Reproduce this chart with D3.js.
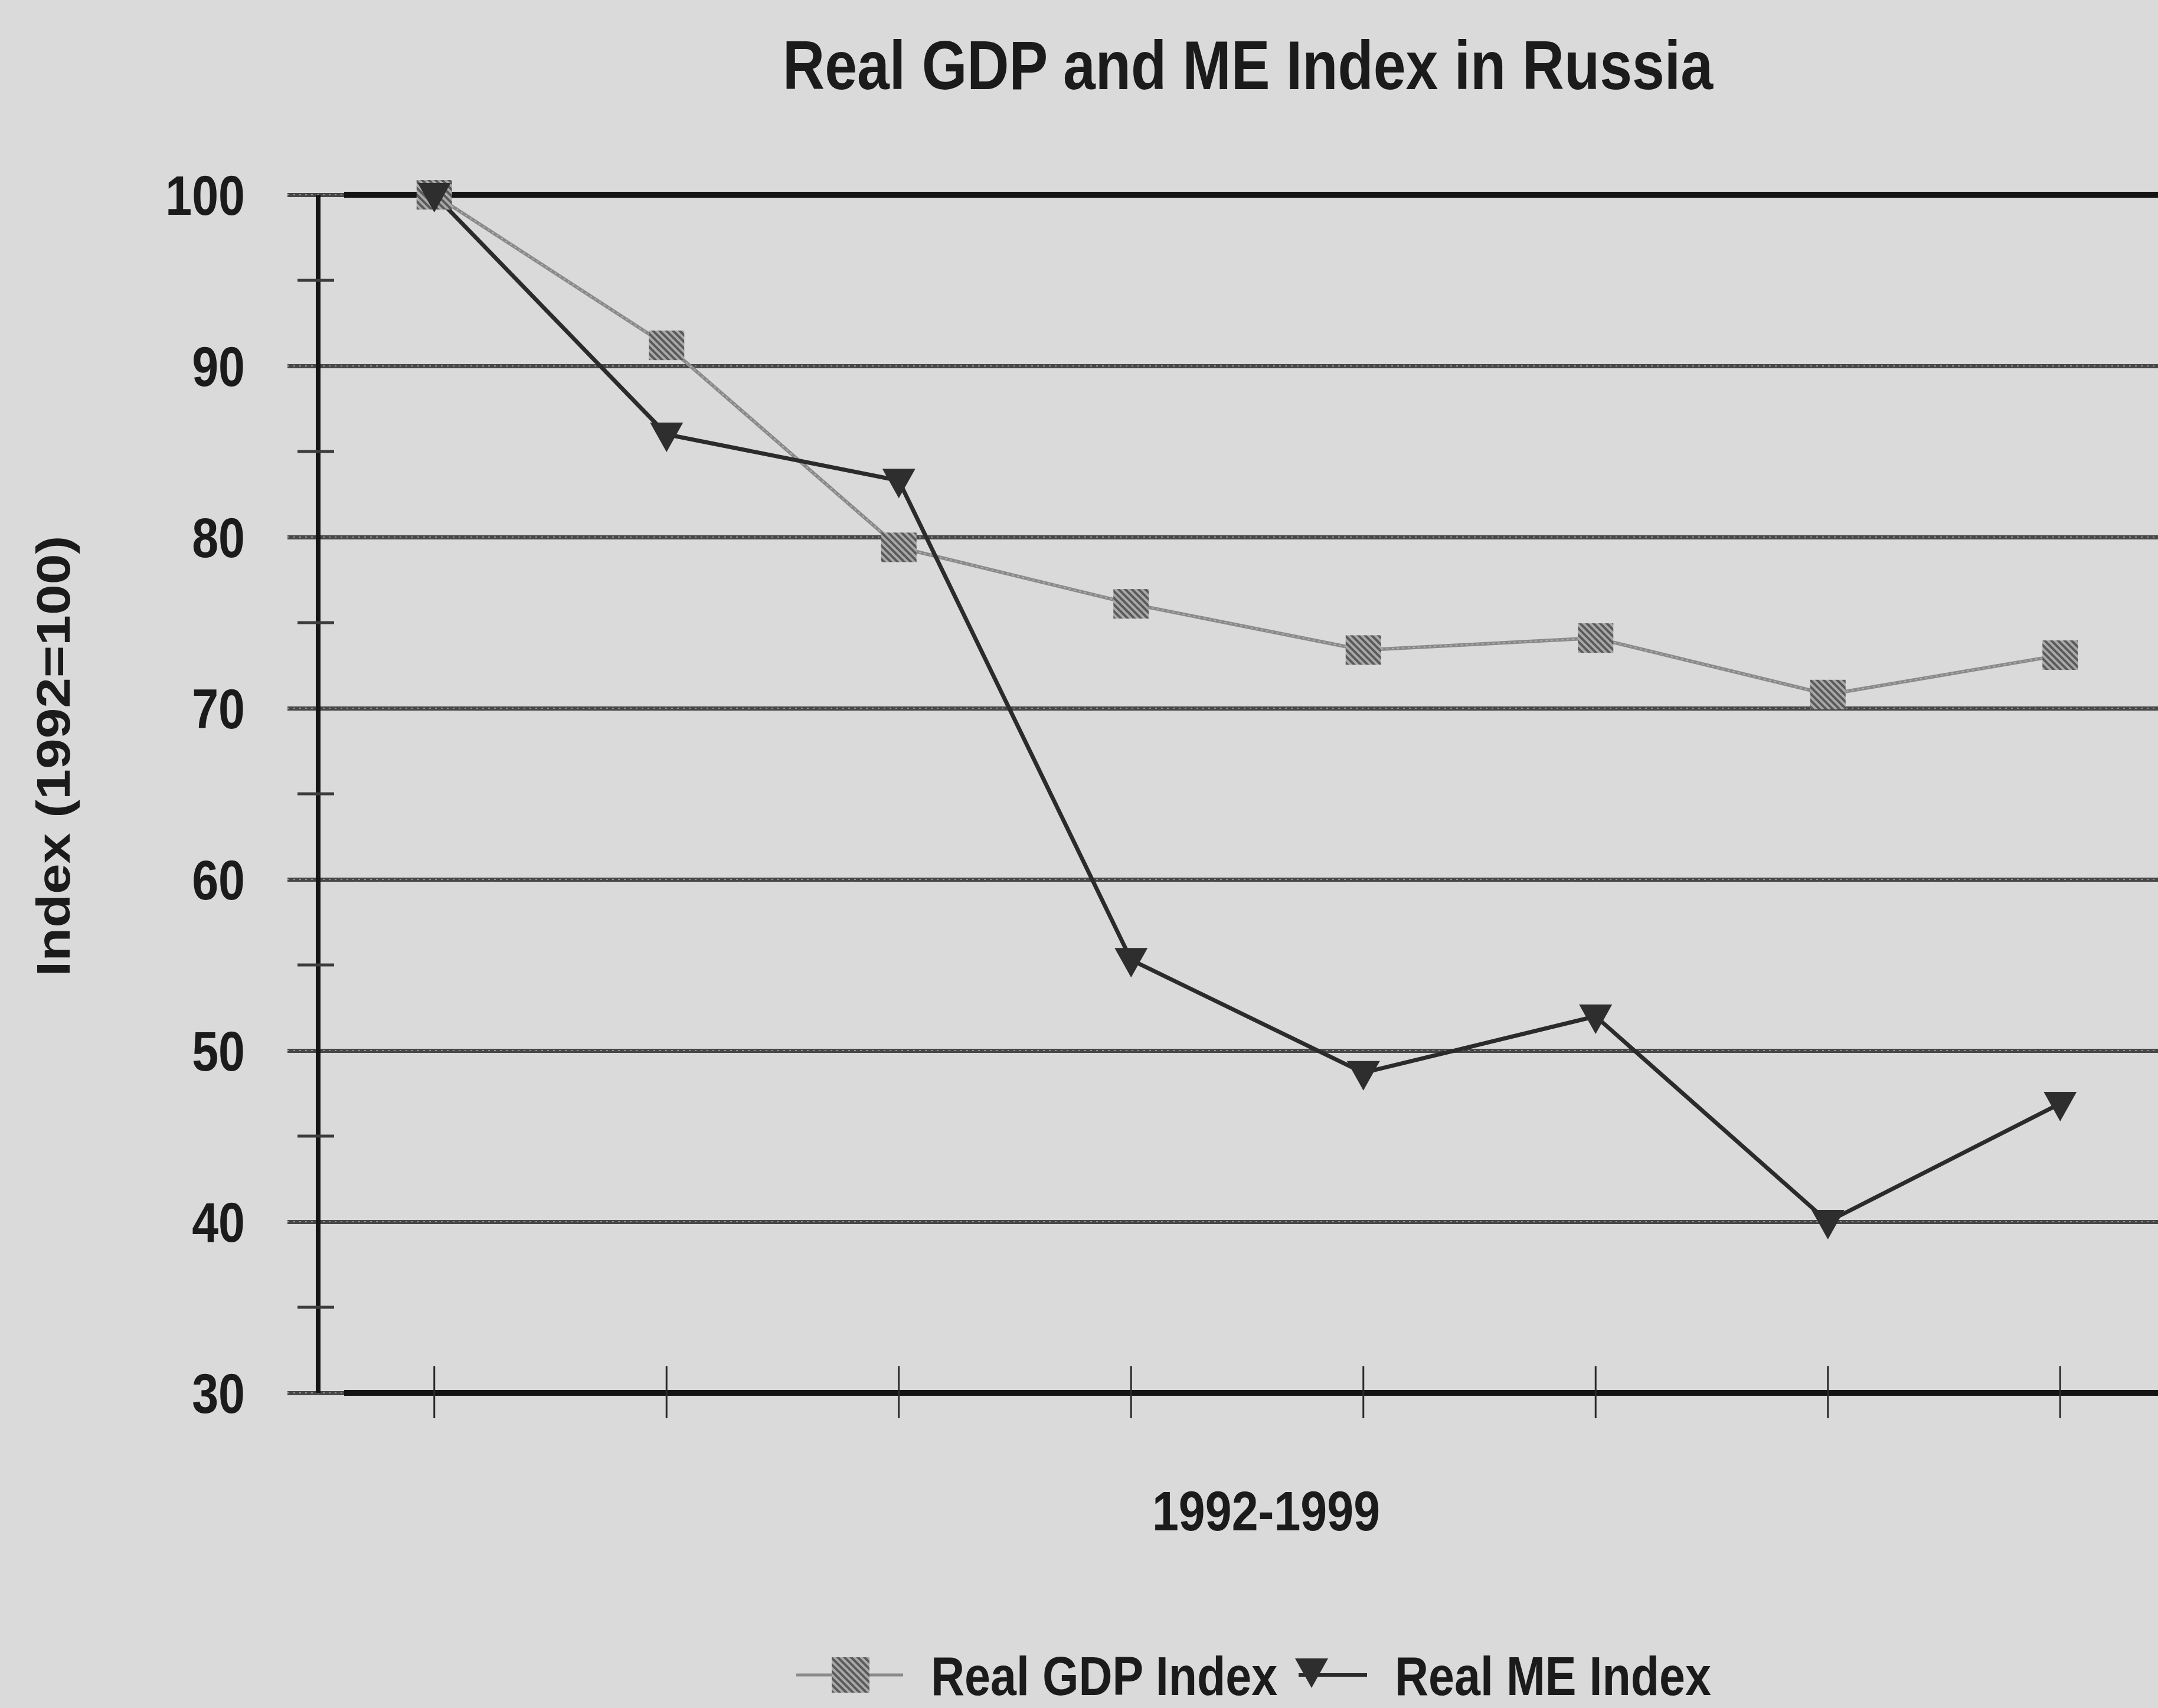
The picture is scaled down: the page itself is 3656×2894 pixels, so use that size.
<!DOCTYPE html>
<html>
<head>
<meta charset="utf-8">
<script src="https://cdn.jsdelivr.net/npm/d3@7"></script>
<style>
  html, body { margin: 0; padding: 0; background: #dadada; }
  svg { display: block; }
  text { font-family: "Liberation Sans", Arial, sans-serif; font-weight: bold; fill: #1b1b1b; }
</style>
</head>
<body>
<svg id="chart" width="3656" height="2894"></svg>
<script>
// Data: real indices, 1992 = 100
const years = ["1992", "1993", "1994", "1995", "1996", "1997", "1998", "1999"];
const gdpIndex = [100, 91.2, 79.4, 76.1, 73.4, 74.1, 70.8, 73.1];
const meIndex  = [100, 86.0, 83.3, 55.3, 48.7, 52.0, 40.0, 46.9];
const yTicks = [30, 40, 50, 60, 70, 80, 90, 100];
const yMinorTicks = [35, 45, 55, 65, 75, 85, 95];
const seriesNames = ["Real GDP Index", "Real ME Index"];

const W = 3656, H = 2894;
const SX = 0.85;              // horizontal squeeze applied to the lettering
const axisX = 539, plotRight = 3687;
const yTop = 330, yBottom = 2360;

const svg = d3.select("#chart");
svg.append("rect").attr("width", W).attr("height", H).attr("fill", "#dadada");

// Hatch for the square markers
const defs = svg.append("defs");
const hatch = defs.append("pattern")
  .attr("id", "hatch").attr("patternUnits", "userSpaceOnUse")
  .attr("width", 8).attr("height", 8)
  .attr("patternTransform", "rotate(-45)");
hatch.append("rect").attr("width", 8).attr("height", 8).attr("fill", "#a9a9a9");
hatch.append("rect").attr("width", 4).attr("height", 8).attr("fill", "#5a5a5a");

const x = d3.scaleBand().domain(years).range([axisX, plotRight]).padding(0);
const cx = d => x(d) + x.bandwidth() / 2;
const y = d3.scaleLinear().domain([30, 100]).range([yBottom, yTop]);

function label(g, str, px, py, size, anchor, extra) {
  return g.append("text")
    .attr("transform", `translate(${px},${py}) scale(${SX},1)` + (extra || ""))
    .attr("text-anchor", anchor)
    .attr("font-size", size)
    .text(str);
}

// Horizontal gridlines (textured look: dark base with light breaks)
const grid = svg.append("g")
  .attr("transform", `translate(${W},0)`)
  .call(d3.axisLeft(y).tickValues(yTicks).tickSize(W - 487).tickFormat(""));
grid.select(".domain").remove();
grid.selectAll(".tick line").attr("stroke", "#474747").attr("stroke-width", 7);
const gridOverlay = svg.append("g");
yTicks.forEach(v => {
  gridOverlay.append("line")
    .attr("x1", 487).attr("x2", W).attr("y1", y(v)).attr("y2", y(v))
    .attr("stroke", "#8e8e8e").attr("stroke-width", 2)
    .attr("stroke-dasharray", "3 7");
});

// Solid frame lines at the top and bottom of the range
[100, 30].forEach(v => {
  svg.append("line")
    .attr("x1", 583).attr("x2", W).attr("y1", y(v)).attr("y2", y(v))
    .attr("stroke", "#141414").attr("stroke-width", 10);
});

// Y axis line and minor ticks
svg.append("line")
  .attr("x1", axisX).attr("x2", axisX).attr("y1", y(100)).attr("y2", y(30))
  .attr("stroke", "#141414").attr("stroke-width", 8);
yMinorTicks.forEach(v => {
  svg.append("line")
    .attr("x1", 504).attr("x2", 566).attr("y1", y(v)).attr("y2", y(v))
    .attr("stroke", "#3c3c3c").attr("stroke-width", 5);
});

// X axis ticks at category centres
const xAxis = svg.append("g")
  .attr("transform", `translate(0,${yBottom - 45})`)
  .call(d3.axisBottom(x).tickSize(88).tickFormat(""));
xAxis.select(".domain").remove();
xAxis.selectAll(".tick line").attr("stroke", "#2a2a2a").attr("stroke-width", 3);

// Y tick labels
const yLab = svg.append("g");
yTicks.forEach(v => label(yLab, String(v), 415, y(v) + 34, 95, "end"));

// Series lines
const line = d3.line().x((d, i) => cx(years[i])).y(d => y(d));
svg.append("path").datum(gdpIndex).attr("d", line)
  .attr("fill", "none").attr("stroke", "#8a8a8a").attr("stroke-width", 6)
  .attr("stroke-linejoin", "round");
svg.append("path").datum(gdpIndex).attr("d", line)
  .attr("fill", "none").attr("stroke", "#b4b4b4").attr("stroke-width", 2)
  .attr("stroke-dasharray", "3 6");
svg.append("path").datum(meIndex).attr("d", line)
  .attr("fill", "none").attr("stroke", "#2b2b2b").attr("stroke-width", 7)
  .attr("stroke-linejoin", "round");

// Markers
const sqW = 60, sqH = 50;
svg.append("g").selectAll("rect").data(gdpIndex).join("rect")
  .attr("x", (d, i) => cx(years[i]) - sqW / 2)
  .attr("y", d => y(d) - sqH / 2)
  .attr("width", sqW).attr("height", sqH)
  .attr("fill", "url(#hatch)");
const tri = (px, py) => `M${px - 28},${py - 20}L${px + 28},${py - 20}L${px},${py + 30}Z`;
svg.append("g").selectAll("path").data(meIndex).join("path")
  .attr("d", (d, i) => tri(cx(years[i]), y(d)))
  .attr("fill", "#2e2e2e");

// Titles
label(svg, "Real GDP and ME Index in Russia", 2114, 151, 116, "middle");
label(svg, "1992-1999", 2145, 2593, 95, "middle");
label(svg, "Index (1992=100)", 118, 1281, 93, "middle", " rotate(-90)");

// Legend
const lg = svg.append("g");
const ly = 2838, lBase = 2872;
lg.append("line").attr("x1", 1349).attr("x2", 1530).attr("y1", ly).attr("y2", ly)
  .attr("stroke", "#8a8a8a").attr("stroke-width", 5);
lg.append("rect").attr("x", 1441 - 32).attr("y", ly - 30).attr("width", 64).attr("height", 60)
  .attr("fill", "url(#hatch)");
label(lg, seriesNames[0], 1577, lBase, 93, "start");
lg.append("line").attr("x1", 2200).attr("x2", 2316).attr("y1", ly).attr("y2", ly)
  .attr("stroke", "#2b2b2b").attr("stroke-width", 6);
lg.append("path").attr("d", tri(2222, ly - 8)).attr("fill", "#2e2e2e");
label(lg, seriesNames[1], 2363, lBase, 93, "start");
</script>
</body>
</html>
